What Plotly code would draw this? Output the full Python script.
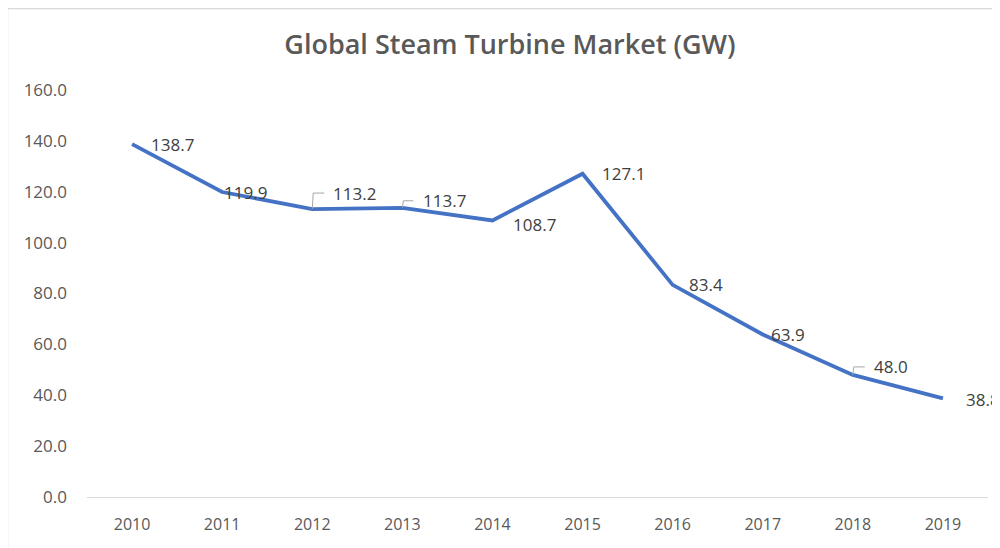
import plotly.graph_objects as go

years = ["2010", "2011", "2012", "2013", "2014", "2015", "2016", "2017", "2018", "2019"]
values = [138.7, 119.9, 113.2, 113.7, 108.7, 127.1, 83.4, 63.9, 48.0, 38.8]
y_ticks = [0, 20, 40, 60, 80, 100, 120, 140, 160]

# label offsets (pixels) per point
label_dx = [40, 23, 42, 42, 42, 41, 33, 25, 38, 40]
label_dy = [0, 0, 16, 7, -4, 0, 0, 0, 8, -1]
leader_len = [0, 0, 12, 11, 0, 0, 0, 0, 12, 0]

fig = go.Figure()
fig.add_trace(go.Scatter(
    x=years, y=values, mode="lines",
    line=dict(color="#4472C4", width=3.8),
    hoverinfo="x+y", showlegend=False,
))

# category axis: annotations/shapes positioned by category index
for i, v in enumerate(values):
    fig.add_annotation(
        x=i, y=v, xref="x", yref="y", text=f"{v:.1f}", showarrow=False,
        xshift=label_dx[i], yshift=label_dy[i],
        font=dict(family="Open Sans", size=17, color="#404040"),
    )
    if leader_len[i]:
        top = label_dy[i]
        fig.add_shape(
            type="path", xref="x", yref="y", xsizemode="pixel", ysizemode="pixel",
            xanchor=i, yanchor=v,
            path=f"M0,0L1,{top}L{leader_len[i]},{top}",
            line=dict(color="#A6A6A6", width=1),
        )

# chart border (figure is offset 8px by page body margin)
fig.add_shape(type="rect", xref="paper", yref="paper",
              x0=-79.5 / 901, x1=1.2, y0=-0.5, y1=1 + 81.5 / 407,
              line=dict(color="#D9D9D9", width=1.5), fillcolor="rgba(0,0,0,0)", layer="below")

fig.update_layout(
    width=992, height=540,
    paper_bgcolor="white", plot_bgcolor="white",
    margin=dict(l=79, r=12, t=82, b=51),
    title=dict(text="Global Steam Turbine Market (GW)", x=502 / 992, xanchor="center",
               y=1 - 37 / 540, yanchor="middle",
               font=dict(family="Open Sans", size=27, color="#595959", weight=600)),
    xaxis=dict(
        type="category", showgrid=False, showline=True, linecolor="#D9D9D9", linewidth=1,
        ticks="", ticklabelstandoff=13,
        tickfont=dict(family="Open Sans", size=16, color="#595959"),
        range=[-0.5, 9.5], fixedrange=True,
    ),
    yaxis=dict(
        range=[0, 160], tickvals=y_ticks, ticktext=[f"{t:.1f}" for t in y_ticks],
        showgrid=False, zeroline=False, showline=False, ticks="", ticklabelstandoff=19,
        tickfont=dict(family="Open Sans", size=17, color="#595959"),
        fixedrange=True,
    ),
)

fig.write_html("out.html")
